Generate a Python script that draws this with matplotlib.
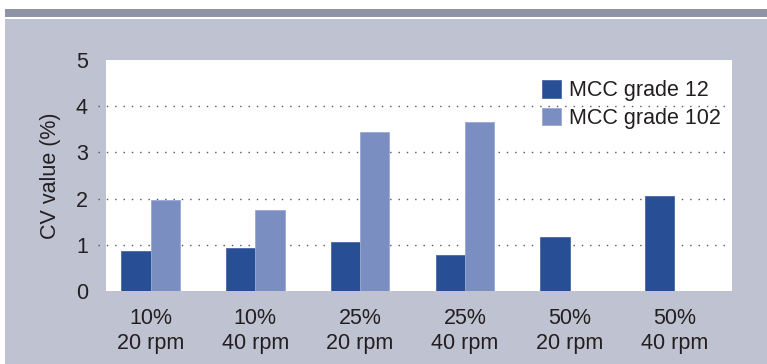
import numpy as np
import matplotlib
matplotlib.use("Agg")
import matplotlib.pyplot as plt
from matplotlib.patches import Rectangle

plt.rcParams['font.family'] = ['Liberation Sans', 'DejaVu Sans']

# CV values per blend condition
conditions = ["10%\n20 rpm", "10%\n40 rpm", "25%\n20 rpm", "25%\n40 rpm", "50%\n20 rpm", "50%\n40 rpm"]
grade_12 = [0.86, 0.93, 1.05, 0.79, 1.17, 2.05]
grade_102 = [1.96, 1.76, 3.45, 3.65, np.nan, np.nan]
series_names = ["MCC grade 12", "MCC grade 102"]

dark_blue = "#284e96"
light_blue = "#7b8ec2"
panel = "#bfc2d1"
stripe = "#8e93a6"
text_col = "#231f20"
fs = 15.5

W, H = 767, 364
fig = plt.figure(figsize=(W / 100, H / 100), dpi=100)
fig.patch.set_facecolor("white")

# background band and header stripe
fig.add_artist(Rectangle((5 / W, 0), 1, 1 - 19 / H, transform=fig.transFigure,
                         facecolor=panel, edgecolor="none", zorder=0))
fig.add_artist(Rectangle((5 / W, 1 - 16.7 / H), 1, 7.7 / H, transform=fig.transFigure,
                         facecolor=stripe, edgecolor="none", zorder=0))

ax = fig.add_axes([106 / W, 1 - 291 / H, 626 / W, 231 / H])
ax.set_facecolor("white")

x = np.arange(len(conditions))
w = 0.28
ax.bar(x - w / 2, grade_12, w, color=dark_blue, edgecolor="#4a68a8", linewidth=0.6,
       label=series_names[0], zorder=3)
ax.bar(x + w / 2, grade_102, w, color=light_blue, edgecolor="#9aa9d2", linewidth=0.6,
       label=series_names[1], zorder=3)

ax.set_xlim(-0.425, 5.55)
ax.set_ylim(0, 5)
ax.set_yticks(range(6))
ax.set_xticks(x)
ax.set_xticklabels(conditions, linespacing=1.25)

# dotted gridlines poke out a little left of the plot
for v in range(1, 5):
    ax.plot([-0.012, 0.997], [v, v], transform=ax.get_yaxis_transform(),
            color="#555555", linestyle=(0, (1, 5)), linewidth=1.0,
            clip_on=False, zorder=1)

for s in ax.spines.values():
    s.set_visible(False)
ax.tick_params(axis="both", length=0, labelsize=fs, colors=text_col)
ax.tick_params(axis="y", pad=13)
ax.tick_params(axis="x", pad=12)

ax.set_ylabel("CV value (%)", fontsize=fs, color=text_col, labelpad=11)

leg = ax.legend(loc="upper left", bbox_to_anchor=(0.679, 0.96), frameon=False,
                fontsize=fs, handlelength=0.88, handleheight=0.88, borderpad=0,
                handletextpad=0.37, labelspacing=0.3, labelcolor=text_col)

fig.savefig("out.png", dpi=100, facecolor=fig.get_facecolor())
